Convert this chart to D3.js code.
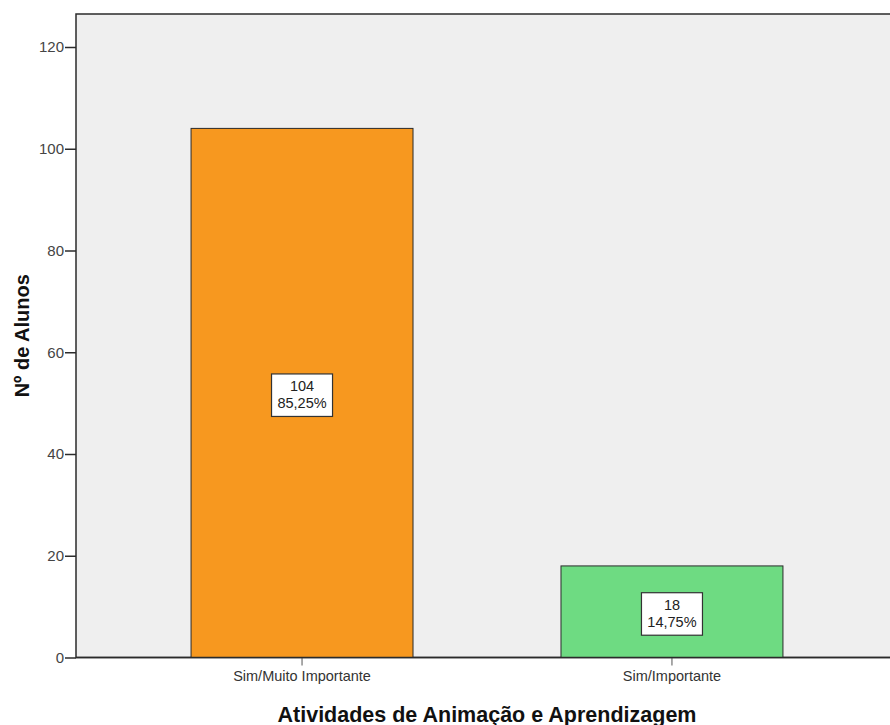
<!DOCTYPE html>
<html><head><meta charset="utf-8">
<script src="https://cdn.jsdelivr.net/npm/d3@7"></script>
<style>body{margin:0;background:#fff;}svg{display:block;}</style>
</head><body>
<script>
const categories = ["Sim/Muito Importante", "Sim/Importante"];
const counts = [104, 18];
const percents = ["85,25%", "14,75%"];
const barColors = ["#f7981f", "#6edb82"];
const yTicks = [0, 20, 40, 60, 80, 100, 120];
const xTitle = "Atividades de Animação e Aprendizagem";
const yTitle = "Nº de Alunos";

const W = 890, H = 725;
const L = 76, T = 14, B = 657.5, R = 898;
const svg = d3.select("body").append("svg").attr("width", W).attr("height", H);
const font = "Arial, 'Liberation Sans', sans-serif";

const y = d3.scaleLinear().domain([0, 120]).range([B, 47]);
const x = d3.scaleBand().domain(categories).range([L, R]).paddingInner(0.4).paddingOuter(0.311);

svg.append("rect").attr("x", L).attr("y", T).attr("width", R - L).attr("height", B - T)
  .attr("fill", "#efefef").attr("stroke", "#2b2b2b").attr("stroke-width", 1.5);

svg.selectAll("rect.bar").data(categories).enter().append("rect").attr("class", "bar")
  .attr("x", d => x(d)).attr("width", x.bandwidth())
  .attr("y", (d, i) => y(counts[i])).attr("height", (d, i) => B - y(counts[i]))
  .attr("fill", (d, i) => barColors[i]).attr("stroke", "#2b2b2b").attr("stroke-width", 1);

// y axis
const ya = svg.append("g").attr("transform", `translate(${L},0)`)
  .call(d3.axisLeft(y).tickValues(yTicks).tickSize(11).tickPadding(1).tickFormat(d3.format("d")));
ya.select(".domain").remove();
ya.selectAll("line").attr("stroke", "#2b2b2b").attr("stroke-width", 1.5);
ya.selectAll("text").attr("font-family", font).attr("font-size", 15).attr("fill", "#444");

// x axis
const xa = svg.append("g").attr("transform", `translate(0,${B})`)
  .call(d3.axisBottom(x).tickSize(8).tickPadding(5));
xa.select(".domain").remove();
xa.selectAll("line").attr("stroke", "#555").attr("stroke-width", 1);
xa.selectAll("text").attr("font-family", font).attr("font-size", 14.5).attr("fill", "#333");

svg.append("line").attr("x1", L).attr("x2", R).attr("y1", B).attr("y2", B)
  .attr("stroke", "#2b2b2b").attr("stroke-width", 1.5);

// value labels
categories.forEach((c, i) => {
  const cx = x(c) + x.bandwidth() / 2;
  const cy = (y(counts[i]) + B) / 2 + 2;
  const g = svg.append("g");
  g.append("rect").attr("x", cx - 30.5).attr("y", cy - 21).attr("width", 61).attr("height", 42.5)
    .attr("fill", "#fff").attr("stroke", "#333").attr("stroke-width", 1.2);
  g.append("text").attr("x", cx).attr("y", cy - 3.5).attr("text-anchor", "middle")
    .attr("font-family", font).attr("font-size", 14.5).attr("fill", "#222").text(counts[i]);
  g.append("text").attr("x", cx).attr("y", cy + 13).attr("text-anchor", "middle")
    .attr("font-family", font).attr("font-size", 14.5).attr("fill", "#222").text(percents[i]);
});

svg.append("text").attr("x", 487).attr("y", 721.5).attr("text-anchor", "middle")
  .attr("font-family", font).attr("font-size", 21.5).attr("font-weight", "bold").attr("fill", "#111").text(xTitle);
svg.append("text").attr("transform", `translate(29,${(T + B) / 2}) rotate(-90)`).attr("text-anchor", "middle")
  .attr("font-family", font).attr("font-size", 20).attr("font-weight", "bold").attr("fill", "#111").text(yTitle);
</script>
</body></html>
